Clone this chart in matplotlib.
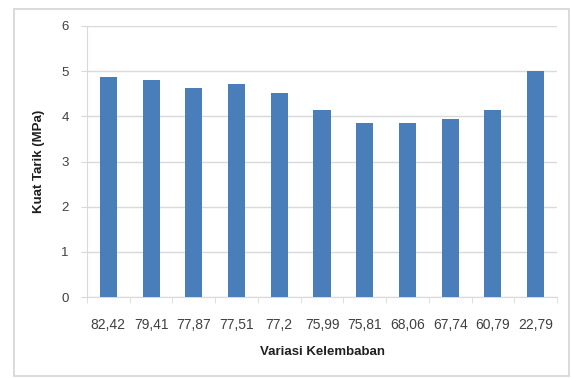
import matplotlib
matplotlib.use("Agg")
import matplotlib.pyplot as plt
from matplotlib.patches import Rectangle

# Tensile strength for each moisture level
kelembaban = ["82,42", "79,41", "77,87", "77,51", "77,2", "75,99",
              "75,81", "68,06", "67,74", "60,79", "22,79"]
kuat_tarik = [4.87, 4.80, 4.62, 4.71, 4.52, 4.14, 3.86, 3.86, 3.95, 4.14, 5.00]
y_ticks = [0, 1, 2, 3, 4, 5, 6]

plt.rcParams['font.family'] = ['Liberation Sans', 'DejaVu Sans']

fig = plt.figure(figsize=(5.71, 3.78), dpi=100)
fig.patch.set_facecolor("white")

# light chart-area frame
fig.add_artist(Rectangle((14 / 571, 1 - 376 / 378), 555 / 571, 367 / 378,
                         transform=fig.transFigure, fill=False,
                         edgecolor="#d4d4d4", linewidth=1.2))

ax = fig.add_axes([87 / 571, 1 - 297 / 378, 470 / 571, 271 / 378])
x = range(len(kelembaban))
ax.bar(x, kuat_tarik, width=0.4, color="#4a7ebb", zorder=3)

ax.set_xlim(-0.5, len(kelembaban) - 0.5)
ax.set_ylim(0, 6)
ax.set_yticks(y_ticks)
ax.set_yticklabels([str(t) for t in y_ticks])
ax.set_xticks(list(x))
ax.set_xticklabels(kelembaban)
ax.set_xticks([i + 0.5 for i in range(-1, len(kelembaban))], minor=True)

ax.yaxis.grid(True, color="#d9d9d9", linewidth=1.0, zorder=0)
for s in ["top", "right"]:
    ax.spines[s].set_visible(False)
ax.spines["left"].set_color("#e0d8d0")
ax.spines["bottom"].set_color("#d9d9d9")

ax.tick_params(axis="y", length=4, color="#d9d9d9", labelsize=9.5,
               labelcolor="#404040", pad=9)
ax.tick_params(axis="x", which="major", length=0, labelsize=10,
               labelcolor="#404040", pad=15)
ax.tick_params(axis="x", which="minor", length=4, color="#d9d9d9")

ax.set_ylabel("Kuat Tarik (MPa)", fontsize=9.5, fontweight="bold",
              color="#202020", labelpad=12)
ax.set_xlabel("Variasi Kelembaban", fontsize=9.5, fontweight="bold",
              color="#202020", labelpad=10)

fig.savefig("out.png", dpi=100, facecolor="white")
